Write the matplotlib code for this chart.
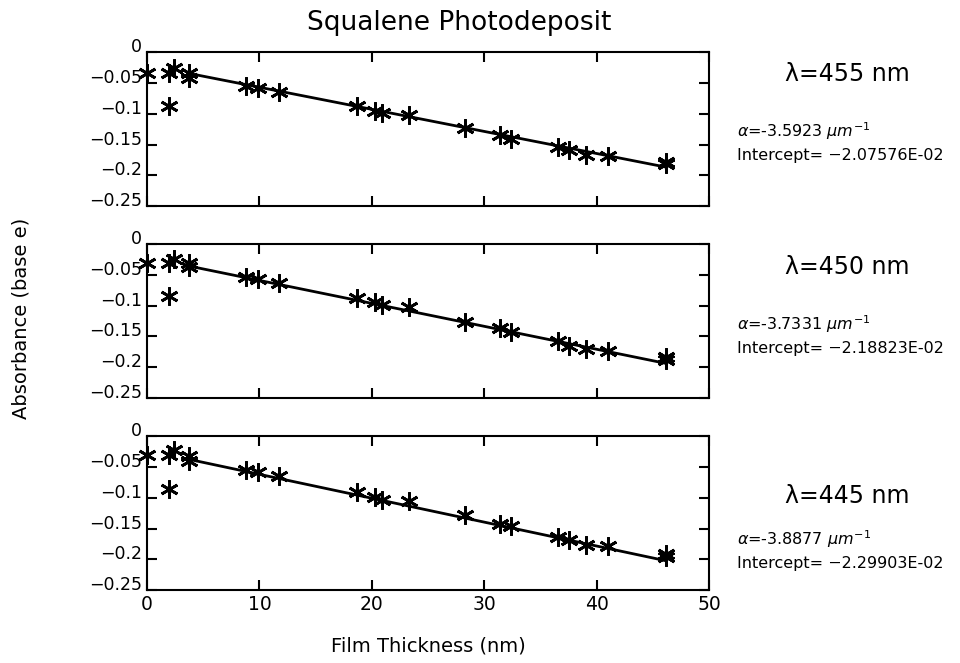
import matplotlib
matplotlib.use("Agg")
import matplotlib.pyplot as plt
import matplotlib.transforms as mtransforms
import numpy as np

# film thickness (nm), same for the three wavelengths
espesor = [0, 2.0, 2.0, 2.4, 3.7, 3.7, 8.8, 9.9, 11.7, 18.7, 20.3, 20.9, 23.3,
           28.3, 31.4, 32.4, 36.5, 37.5, 39.0, 41.0, 46.1, 46.1]

abs_455 = [-0.034, -0.034, -0.087, -0.026, -0.034, -0.041, -0.055, -0.058, -0.065,
           -0.087, -0.095, -0.098, -0.101, -0.123, -0.135, -0.140, -0.153, -0.159,
           -0.166, -0.169, -0.178, -0.182]
abs_450 = [-0.031, -0.031, -0.085, -0.024, -0.031, -0.038, -0.053, -0.057, -0.064,
           -0.087, -0.095, -0.099, -0.102, -0.126, -0.136, -0.143, -0.157, -0.165,
           -0.171, -0.174, -0.183, -0.189]
abs_445 = [-0.030, -0.030, -0.086, -0.022, -0.032, -0.040, -0.055, -0.058, -0.065,
           -0.091, -0.099, -0.103, -0.106, -0.128, -0.142, -0.146, -0.164, -0.168,
           -0.176, -0.179, -0.192, -0.197]

longitudes = ["455", "450", "445"]
alfas = [-3.5923, -3.7331, -3.8877]          # um^-1
intercepts = [-2.07576E-02, -2.18823E-02, -2.29903E-02]
textos_intercept = ["-2.07576E-02", "-2.18823E-02", "-2.29903E-02"]
ajuste_desde = 3.7
ajuste_hasta = 46.1

yticks = [0, -0.05, -0.1, -0.15, -0.2, -0.25]
yticklabels = ["0", "\u22120.05", "\u22120.1", "\u22120.15", "\u22120.2", "\u22120.25"]
xticks = [0, 10, 20, 30, 40, 50]

fig = plt.figure(figsize=(9.6, 6.63), dpi=100)
abajos = [0.689, 0.400, 0.110]
datos = [abs_455, abs_450, abs_445]
# posiciones de los textos (fraccion del eje)
y_lambda = [0.86, 0.85, 0.61]
y_alfa = [0.49, 0.48, 0.33]
y_inter = [0.33, 0.32, 0.17]

for i in range(3):
    ax = fig.add_axes([0.153, abajos[i], 0.586, 0.232])
    ax.plot(espesor, datos[i], linestyle="none", marker=(6, 2, 0), markersize=13,
            markeredgewidth=2, color="black", clip_on=False)
    xs = np.array([ajuste_desde, ajuste_hasta])
    ax.plot(xs, intercepts[i] + alfas[i] / 1000 * xs, color="black", linewidth=2)
    ax.set_xlim(0, 50)
    ax.set_ylim(-0.25, 0)
    ax.set_yticks(yticks)
    ax.set_yticklabels(yticklabels, fontsize=12.5)
    ax.set_xticks(xticks)
    ax.tick_params(direction="in", length=7, width=1.5, top=True, right=True)
    for s in ax.spines.values():
        s.set_linewidth(1.5)
    off = mtransforms.ScaledTranslation(0, 5 / 72, fig.dpi_scale_trans)
    for lab in ax.get_yticklabels():
        lab.set_transform(lab.get_transform() + off)
    if i < 2:
        ax.set_xticklabels([])
    else:
        ax.set_xticklabels([str(t) for t in xticks], fontsize=13.5)
        ax.set_xlabel("Film Thickness (nm)", fontsize=14, labelpad=16)
    ax.text(1.245, y_lambda[i], "\u03bb=" + longitudes[i] + " nm", transform=ax.transAxes,
            fontsize=17, ha="center", va="center")
    ax.text(1.0 + 28 / 562, y_alfa[i], r"$\alpha$=" + "%.4f" % alfas[i] + r" $\mu m^{-1}$",
            transform=ax.transAxes, fontsize=11.5, ha="left", va="center")
    ax.text(1.0 + 28 / 562, y_inter[i], "Intercept= " + textos_intercept[i].replace("-", "\u2212", 1),
            transform=ax.transAxes, fontsize=11.5, ha="left", va="center")

fig.text(0.478, 0.966, "Squalene Photodeposit", fontsize=19, ha="center", va="center")
fig.text(0.022, 0.52, "Absorbance (base e)", fontsize=14, rotation=90, ha="center", va="center")

plt.savefig("out.png", dpi=100)
